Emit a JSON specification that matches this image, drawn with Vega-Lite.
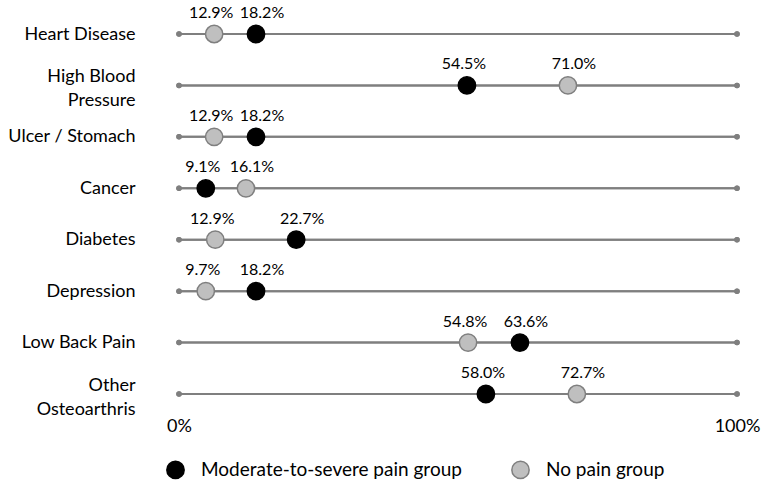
{
  "$schema": "https://vega.github.io/schema/vega-lite/v6.json",
  "autosize": {"type": "none"},
  "width": 558,
  "height": 360,
  "padding": {"left": 179, "top": 34, "right": 28, "bottom": 91},
  "background": "white",
  "config": {
    "view": {"stroke": null},
    "font": "Lato",
    "axis": {"labelFont": "Lato", "labelColor": "#000000"},
    "legend": {"labelFont": "Lato", "labelColor": "#000000"}
  },
  "data": {
    "values": [
      {"condition": "Heart Disease", "group": "No pain group", "value": 12.9, "label": "12.9%", "pos": 6.3},
      {"condition": "Heart Disease", "group": "Moderate-to-severe pain group", "value": 18.2, "label": "18.2%", "pos": 13.8},
      {"condition": "High Blood Pressure", "group": "Moderate-to-severe pain group", "value": 54.5, "label": "54.5%", "pos": 51.6},
      {"condition": "High Blood Pressure", "group": "No pain group", "value": 71.0, "label": "71.0%", "pos": 69.7},
      {"condition": "Ulcer / Stomach", "group": "No pain group", "value": 12.9, "label": "12.9%", "pos": 6.3},
      {"condition": "Ulcer / Stomach", "group": "Moderate-to-severe pain group", "value": 18.2, "label": "18.2%", "pos": 13.8},
      {"condition": "Cancer", "group": "Moderate-to-severe pain group", "value": 9.1, "label": "9.1%", "pos": 4.8},
      {"condition": "Cancer", "group": "No pain group", "value": 16.1, "label": "16.1%", "pos": 12.0},
      {"condition": "Diabetes", "group": "No pain group", "value": 12.9, "label": "12.9%", "pos": 6.5},
      {"condition": "Diabetes", "group": "Moderate-to-severe pain group", "value": 22.7, "label": "22.7%", "pos": 21.0},
      {"condition": "Depression", "group": "No pain group", "value": 9.7, "label": "9.7%", "pos": 4.8},
      {"condition": "Depression", "group": "Moderate-to-severe pain group", "value": 18.2, "label": "18.2%", "pos": 13.8},
      {"condition": "Low Back Pain", "group": "No pain group", "value": 54.8, "label": "54.8%", "pos": 51.8},
      {"condition": "Low Back Pain", "group": "Moderate-to-severe pain group", "value": 63.6, "label": "63.6%", "pos": 61.1},
      {"condition": "Other Osteoarthris", "group": "Moderate-to-severe pain group", "value": 58.0, "label": "58.0%", "pos": 55.0},
      {"condition": "Other Osteoarthris", "group": "No pain group", "value": 72.7, "label": "72.7%", "pos": 71.3}
    ]
  },
  "encoding": {
    "y": {
      "field": "condition",
      "type": "nominal",
      "sort": ["Heart Disease", "High Blood Pressure", "Ulcer / Stomach", "Cancer", "Diabetes", "Depression", "Low Back Pain", "Other Osteoarthris"],
      "scale": {"type": "point", "padding": 0},
      "axis": {
        "title": null,
        "domain": false,
        "ticks": false,
        "grid": false,
        "labelFontSize": 18,
        "labelPadding": 44,
        "labelLineHeight": 24,
        "labelLimit": 300,
        "labelOffset": {"condition": {"test": "datum.value == 'High Blood Pressure' || datum.value == 'Other Osteoarthris'", "value": -9}, "value": 0},
        "labelExpr": "datum.label == 'High Blood Pressure' ? ['High Blood', 'Pressure'] : datum.label == 'Other Osteoarthris' ? ['Other', 'Osteoarthris'] : datum.label"
      }
    }
  },
  "layer": [
    {
      "mark": {"type": "rule", "color": "#7f7f7f", "strokeWidth": 2},
      "encoding": {
        "x": {
          "datum": 0,
          "type": "quantitative",
          "scale": {"domain": [0, 100], "nice": false, "zero": false},
          "axis": {
            "title": null,
            "domain": false,
            "ticks": false,
            "grid": false,
            "values": [0, 100],
            "labelExpr": "datum.value + '%'",
            "labelFontSize": 18,
            "labelPadding": 23,
            "labelFlush": false
          }
        },
        "x2": {"datum": 100}
      }
    },
    {
      "mark": {"type": "circle", "color": "#7f7f7f", "size": 30, "opacity": 1},
      "encoding": {"x": {"datum": 0, "type": "quantitative"}}
    },
    {
      "mark": {"type": "circle", "color": "#7f7f7f", "size": 30, "opacity": 1},
      "encoding": {"x": {"datum": 100, "type": "quantitative"}}
    },
    {
      "mark": {"type": "circle", "size": 300, "opacity": 1, "strokeWidth": 1.5},
      "encoding": {
        "x": {"field": "pos", "type": "quantitative"},
        "fill": {
          "field": "group",
          "type": "nominal",
          "scale": {"domain": ["Moderate-to-severe pain group", "No pain group"], "range": ["#000000", "#bfbfbf"]},
          "legend": {
            "title": null,
            "orient": "none",
            "direction": "horizontal",
            "legendX": -13,
            "legendY": 426,
            "padding": 0,
            "symbolSize": 300,
            "symbolStrokeWidth": 1.5,
            "labelFontSize": 19,
            "labelOffset": 16,
            "labelLimit": 400,
            "columnPadding": 46,
            "symbolType": "circle"
          }
        },
        "stroke": {
          "field": "group",
          "type": "nominal",
          "scale": {"domain": ["Moderate-to-severe pain group", "No pain group"], "range": ["#000000", "#7f7f7f"]},
          "legend": {
            "title": null,
            "orient": "none",
            "direction": "horizontal",
            "legendX": -13,
            "legendY": 426,
            "padding": 0,
            "symbolSize": 300,
            "symbolStrokeWidth": 1.5,
            "labelFontSize": 19,
            "labelOffset": 16,
            "labelLimit": 400,
            "columnPadding": 46,
            "symbolType": "circle"
          }
        }
      }
    },
    {
      "transform": [
        {"window": [{"op": "rank", "as": "r"}], "sort": [{"field": "pos"}], "groupby": ["condition"]},
        {"filter": "datum.r == 1"}
      ],
      "mark": {"type": "text", "dy": -21, "dx": -3, "fontSize": 16, "color": "#000000", "font": "Lato"},
      "encoding": {
        "x": {"field": "pos", "type": "quantitative"},
        "text": {"field": "label", "type": "nominal"}
      }
    },
    {
      "transform": [
        {"window": [{"op": "rank", "as": "r"}], "sort": [{"field": "pos"}], "groupby": ["condition"]},
        {"filter": "datum.r == 2"}
      ],
      "mark": {"type": "text", "dy": -21, "dx": 6, "fontSize": 16, "color": "#000000", "font": "Lato"},
      "encoding": {
        "x": {"field": "pos", "type": "quantitative"},
        "text": {"field": "label", "type": "nominal"}
      }
    }
  ]
}
